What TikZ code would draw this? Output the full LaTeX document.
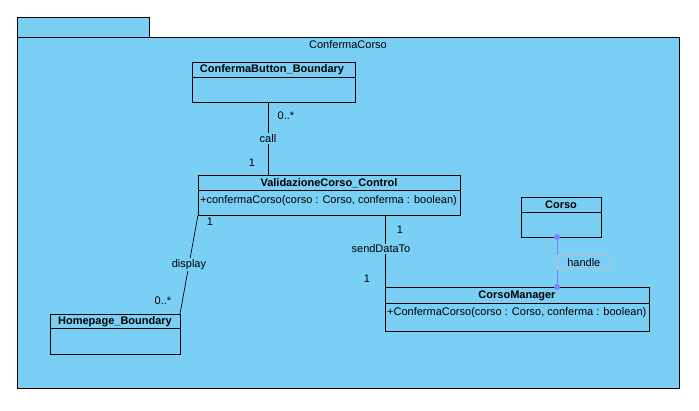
\documentclass[tikz,border=0pt]{standalone}
\usepackage{fontspec}
\setmainfont{Liberation Sans}
\definecolor{pkg}{RGB}{122,207,245}
\definecolor{hdl}{RGB}{128,128,255}
\definecolor{lbox}{RGB}{190,190,190}
\begin{document}
\begin{tikzpicture}[x=1pt,y=-1pt,
  box/.style={draw=black,line width=0.8pt,fill=pkg},
  ttl/.style={font=\fontsize{11}{12}\selectfont\bfseries,inner sep=0pt},
  op/.style={font=\fontsize{11}{12}\selectfont,inner sep=0pt,anchor=west},
  lbl/.style={font=\fontsize{11}{12}\selectfont,inner sep=1pt,fill=pkg},
  mult/.style={font=\fontsize{11}{12}\selectfont,inner sep=0pt},
  conn/.style={draw=black,line width=0.7pt}]
\useasboundingbox (0,0) rectangle (699,411);
% package
\draw[box] (17,17) rectangle (149,37);
\draw[box] (17,37) rectangle (679,388);
\node[font=\fontsize{11}{12}\selectfont,inner sep=0pt] (pkgname) at (348,45) {ConfermaCorso};
% ConfermaButton_Boundary
\draw[box] (192,62) rectangle (355,102);
\draw[line width=0.8pt] (192,77) -- (355,77);
\node[ttl] (cbt) at (272,70) {ConfermaButton\_Boundary};
\coordinate (cb) at (268,102);
% ValidazioneCorso_Control
\draw[box] (198,175) rectangle (460,215);
\draw[line width=0.8pt] (198,190) -- (460,190);
\node[ttl] (vct) at (329,183) {ValidazioneCorso\_Control};
\node[op] (vco) at (200,201) {+confermaCorso(corso : Corso, conferma : boolean)};
\coordinate (vctop) at (268,175);
\coordinate (vcl) at (198,215);
\coordinate (vcr) at (385,215);
% Corso
\draw[box] (521,197) rectangle (601,237);
\draw[line width=0.8pt] (521,212) -- (601,212);
\node[ttl] (ct) at (561,205) {Corso};
\coordinate (cbot) at (557,237);
% CorsoManager
\draw[box] (385,287) rectangle (649,331);
\draw[line width=0.8pt] (385,303) -- (649,303);
\node[ttl] (cmt) at (517,295.5) {CorsoManager};
\node[op] (cmo) at (387,312.5) {+ConfermaCorso(corso : Corso, conferma : boolean)};
\coordinate (cmtop) at (557,287);
\coordinate (cml) at (385,287);
% Homepage_Boundary
\draw[box] (50,314) rectangle (180,354);
\draw[line width=0.8pt] (50,328) -- (180,328);
\node[ttl] (hbt) at (115,321.5) {Homepage\_Boundary};
\coordinate (hb) at (180,314);
% connectors
\draw[conn] (cb) -- (vctop) node[lbl,pos=0.5] (call) {call};
\node[mult] (m1) at (286,116) {0..*};
\node[mult] (m2) at (252,163) {1};
\draw[conn] (vcl) -- (hb) node[lbl,pos=0.5] (disp) {display};
\node[mult] (m3) at (210,222) {1};
\node[mult] (m4) at (163,301) {0..*};
\draw[conn] (vcr) -- (cml) node[lbl,pos=0.47,xshift=-4pt] (sdt) {sendDataTo};
\node[mult] (m5) at (400,230) {1};
\node[mult] (m6) at (367,279) {1};
\draw[draw=hdl,line width=0.8pt] (cbot) -- (cmtop);
\fill[hdl] (cbot) circle (3);
\fill[hdl] (cmtop) circle (3);
\node[font=\fontsize{11}{12}\selectfont,draw=lbox,line width=0.6pt,fill=pkg,anchor=west,minimum height=14pt,minimum width=53pt,inner sep=1pt] (hl) at (557,262.5) {handle};
\end{tikzpicture}
\end{document}
